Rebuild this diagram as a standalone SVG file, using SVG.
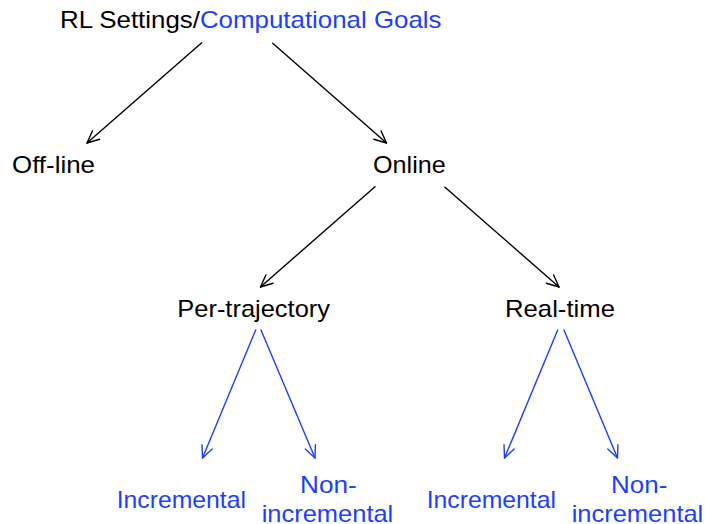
<svg xmlns="http://www.w3.org/2000/svg" width="705" height="524" viewBox="0 0 705 524">
<style>
text{font-family:"Liberation Sans",Arial,Helvetica,sans-serif;font-size:24px;fill:#000}
.b{fill:#1d3ff8}
.e{fill:none;stroke-width:1.4;stroke-linecap:round}
.k{stroke:#000;marker-end:url(#ak)}
.u{stroke:#1d3ff8;marker-end:url(#ab)}
</style>
<defs>
<marker id="ak" markerUnits="userSpaceOnUse" markerWidth="30" markerHeight="30" refX="0" refY="0" viewBox="-15 -15 30 30" orient="auto" overflow="visible">
<path d="M-12,-5.5 L0,0 L-12,5.5" fill="none" stroke="#000" stroke-width="1.4" stroke-linecap="round" stroke-linejoin="round"/>
</marker>
<marker id="ab" markerUnits="userSpaceOnUse" markerWidth="30" markerHeight="30" refX="0" refY="0" viewBox="-15 -15 30 30" orient="auto" overflow="visible">
<path d="M-12,-5.5 L0,0 L-12,5.5" fill="none" stroke="#1d3ff8" stroke-width="1.4" stroke-linecap="round" stroke-linejoin="round"/>
</marker>
</defs>
<g id="connectors">
<line class="e k" x1="201.7" y1="42.7" x2="87" y2="143"/>
<line class="e k" x1="272.7" y1="43.3" x2="386.5" y2="143"/>
<line class="e k" x1="375" y1="186.7" x2="260.5" y2="287"/>
<line class="e k" x1="445" y1="187.3" x2="559" y2="287"/>
<line class="e u" x1="255.7" y1="330" x2="202.5" y2="458"/>
<line class="e u" x1="261" y1="330" x2="315" y2="458"/>
<line class="e u" x1="557.7" y1="330" x2="504.5" y2="458"/>
<line class="e u" x1="564" y1="330" x2="617.5" y2="458"/>
</g>
<g id="root"><text x="60" y="28.3" textLength="381.5" lengthAdjust="spacingAndGlyphs">RL Settings/<tspan class="b">Computational Goals</tspan></text></g>
<g id="offline"><text x="12" y="173" textLength="83" lengthAdjust="spacingAndGlyphs">Off-line</text></g>
<g id="online"><text x="373" y="173" textLength="72.7" lengthAdjust="spacingAndGlyphs">Online</text></g>
<g id="pertrajectory"><text x="177.3" y="316.7" textLength="152.7" lengthAdjust="spacingAndGlyphs">Per-trajectory</text></g>
<g id="realtime"><text x="505" y="316.7" textLength="110" lengthAdjust="spacingAndGlyphs">Real-time</text></g>
<g id="inc1"><text class="b" x="116.7" y="508.3" textLength="129.3" lengthAdjust="spacingAndGlyphs">Incremental</text></g>
<g id="noninc1"><text class="b" x="300" y="492.7" textLength="56.7" lengthAdjust="spacingAndGlyphs">Non-</text><text class="b" x="261.7" y="521.7" textLength="131.6" lengthAdjust="spacingAndGlyphs">incremental</text></g>
<g id="inc2"><text class="b" x="426.7" y="508.3" textLength="129.3" lengthAdjust="spacingAndGlyphs">Incremental</text></g>
<g id="noninc2"><text class="b" x="611" y="492.7" textLength="56.3" lengthAdjust="spacingAndGlyphs">Non-</text><text class="b" x="571.7" y="521.7" textLength="131.6" lengthAdjust="spacingAndGlyphs">incremental</text></g>
</svg>
